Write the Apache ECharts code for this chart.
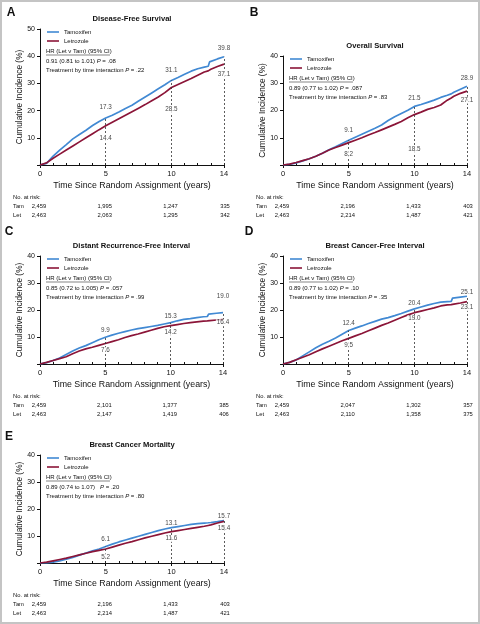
<!DOCTYPE html>
<html><head><meta charset="utf-8">
<script src="https://cdn.jsdelivr.net/npm/echarts@6/dist/echarts.min.js"></script>
<style>html,body{margin:0;padding:0;background:#fff}#c{width:480px;height:624px}</style>
</head><body><div id="c"></div>
<script>
// ---------- data ----------
const times = [0,0.5,1,1.5,2,2.5,3,3.5,4,4.5,5,5.5,6,6.5,7,7.5,8,8.5,9,9.5,10,10.5,11,11.5,12,12.5,12.8,12.9,13,13.5,14];

const dfsTam = [0,0.6,3.3,5.5,7.5,9.6,11.2,12.8,14.5,16.0,17.3,18.3,19.5,20.8,22.0,23.5,25.0,26.5,28.0,29.5,31.1,32.2,33.4,34.5,35.4,36.0,36.3,37.9,38.3,39.0,39.8];
const dfsLet = [0,0.8,2.5,4.0,5.5,7.0,8.5,10.0,11.5,13.0,14.4,15.7,17.0,18.3,19.6,20.9,22.2,23.6,25.0,26.6,28.5,29.6,30.7,31.8,33.0,34.2,34.6,34.8,35.2,36.2,37.1];

const osTam = [0,0.2,0.8,1.5,2.3,3.2,4.3,5.6,6.7,7.9,9.1,10.2,11.3,12.4,13.5,14.7,16.3,17.7,18.9,20.1,21.5,22.2,23.0,23.8,24.8,25.6,26.1,26.3,26.7,27.8,28.9];
const osLet = [0,0.3,0.9,1.6,2.3,3.2,4.3,5.5,6.4,7.3,8.2,9.1,10.0,11.0,11.9,12.9,13.9,14.9,16.0,17.3,18.5,19.4,20.4,21.1,22.0,23.8,24.6,24.9,25.2,26.3,27.1];

const drfiTam = [0,0.5,1.3,2.2,3.5,4.8,5.9,6.8,7.9,9.0,9.9,10.7,11.4,12.0,12.6,13.1,13.5,13.9,14.3,14.8,15.3,16.0,16.5,16.8,17.2,17.5,17.6,18.5,18.6,18.8,19.0];
const drfiLet = [0,0.6,1.3,2.0,2.7,3.8,4.8,5.6,6.2,6.9,7.6,8.3,9.0,9.8,10.5,11.1,11.8,12.5,13.2,13.8,14.2,14.6,15.0,15.3,15.6,15.9,16.0,16.0,16.1,16.3,16.4];

const bcfiTam = [0,0.6,1.5,3.0,4.5,6.0,7.3,8.4,9.6,11.0,12.4,13.3,14.1,15.0,15.8,16.6,17.2,17.9,18.7,19.6,20.4,21.1,21.8,22.4,22.9,23.1,23.2,24.4,24.5,24.8,25.1];
const bcfiLet = [0,0.6,1.6,2.5,3.4,4.5,5.6,6.6,7.6,8.6,9.5,10.4,11.3,12.3,13.3,14.3,15.2,16.2,17.2,18.2,19.0,19.6,20.2,20.8,21.5,21.9,22.0,22.1,22.2,22.6,23.1];

const bcmTam = [0,0,0.3,0.8,1.4,2.1,2.9,3.7,4.5,5.2,6.1,7.0,7.8,8.5,9.2,9.9,10.6,11.3,12.0,12.6,13.1,13.5,13.9,14.3,14.6,14.8,14.9,14.9,15.0,15.3,15.7];
const bcmLet = [0,0.3,0.8,1.3,1.8,2.4,3.0,3.6,4.2,4.7,5.2,5.9,6.6,7.3,7.9,8.6,9.3,9.9,10.5,11.1,11.6,12.0,12.4,12.8,13.2,13.6,13.9,14.0,14.1,14.8,15.4];

const atRiskTimes = [0,5,10,14];
const dfsRiskTam = ['2,459','1,995','1,247','335'];
const dfsRiskLet = ['2,463','2,063','1,295','342'];
const osRiskTam = ['2,459','2,196','1,433','403'];
const osRiskLet = ['2,463','2,214','1,487','421'];
const drfiRiskTam = ['2,459','2,101','1,377','385'];
const drfiRiskLet = ['2,463','2,147','1,419','406'];
const bcfiRiskTam = ['2,459','2,047','1,302','357'];
const bcfiRiskLet = ['2,463','2,110','1,358','375'];
const bcmRiskTam = ['2,459','2,196','1,433','403'];
const bcmRiskLet = ['2,463','2,214','1,487','421'];

const markYears = [5,10,14];
const xTickLabels = [0,5,10,14];
const seriesNames = ['Tamoxifen','Letrozole'];

// ---------- layout / style ----------
const FONT = "'Liberation Sans',Arial,sans-serif";
const BLUE = '#4189d3';
const RED = '#8b1538';
const TXT = '#111';

const panels = [
  {letter:'A', title:'Disease-Free Survival', tam:dfsTam, let:dfsLet, rT:dfsRiskTam, rL:dfsRiskLet,
   hr:'0.91 (0.81 to 1.01) ', p:' = .08', pInt:' = .22', yMax:50, grid:{left:40,top:29,width:184,height:136},
   offT:[-11,-10,-8], offL:[12,22,10], letterPos:[11,13]},
  {letter:'B', title:'Overall Survival', tam:osTam, let:osLet, rT:osRiskTam, rL:osRiskLet,
   hr:'0.89 (0.77 to 1.02) ', p:' = .087', pInt:' = .83', yMax:40, grid:{left:283,top:56,width:184,height:109},
   offT:[-10,-8,-8], offL:[12,35,9], letterPos:[254,13]},
  {letter:'C', title:'Distant Recurrence-Free Interval', tam:drfiTam, let:drfiLet, rT:drfiRiskTam, rL:drfiRiskLet,
   hr:'0.85 (0.72 to 1.005) ', p:' = .057', pInt:' = .99', yMax:40, grid:{left:40,top:256,width:183,height:108},
   offT:[-7,-6,-16], offL:[7,7,3], letterPos:[9,232]},
  {letter:'D', title:'Breast Cancer-Free Interval', tam:bcfiTam, let:bcfiLet, rT:bcfiRiskTam, rL:bcfiRiskLet,
   hr:'0.89 (0.77 to 1.02) ', p:' = .10', pInt:' = .35', yMax:40, grid:{left:283,top:256,width:184,height:108},
   offT:[-7,-6,-4], offL:[7,6,6], letterPos:[249,232]},
  {letter:'E', title:'Breast Cancer Mortality', tam:bcmTam, let:bcmLet, rT:bcmRiskTam, rL:bcmRiskLet,
   hr:'0.89 (0.74 to 1.07)   ', p:' = .20', pInt:' = .80', yMax:40, grid:{left:40,top:455,width:184,height:108},
   offT:[-7,-4,-4], offL:[8,7,7], letterPos:[9,437]}
];

const chart = echarts.init(document.getElementById('c'), null, {renderer:'canvas'});

const grid = [], xAxis = [], yAxis = [], series = [], legend = [];
panels.forEach((pn, i) => {
  grid.push(Object.assign({containLabel:false}, pn.grid));
  xAxis.push({
    type:'value', gridIndex:i, min:0, max:14,
    axisLine:{show:true, onZero:false, lineStyle:{color:'#111', width:1}},
    axisTick:{show:true, customValues:xTickLabels, length:3, lineStyle:{color:'#111'}},
    axisLabel:{show:true, customValues:xTickLabels, fontSize:7.5, color:TXT, fontFamily:FONT, margin:5},
    splitLine:{show:false},
    name:'Time Since Random Assignment (years)', nameLocation:'middle', nameGap:16,
    nameTextStyle:{fontSize:8.8, color:TXT, fontFamily:FONT}
  });
  xAxis.push({
    type:'value', gridIndex:i, min:0, max:14, interval:1, position:'bottom',
    axisLine:{show:false}, axisLabel:{show:false}, splitLine:{show:false},
    axisTick:{show:true, inside:true, length:2, lineStyle:{color:'#111'}}
  });
  yAxis.push({
    type:'value', gridIndex:i, min:0, max:pn.yMax, interval:10,
    axisLine:{show:true, onZero:false, lineStyle:{color:'#111', width:1}},
    axisTick:{show:true, length:3, lineStyle:{color:'#111'}},
    axisLabel:{fontSize:7, color:TXT, fontFamily:FONT, margin:5, formatter:v => v === 0 ? '' : String(v)},
    splitLine:{show:false},
    name:'Cumulative Incidence (%)', nameLocation:'middle', nameGap:16,
    nameTextStyle:{fontSize:8.3, color:TXT, fontFamily:FONT}
  });
  const xi = i * 2;
  series.push({
    name:seriesNames[0], type:'line', xAxisIndex:xi, yAxisIndex:i, showSymbol:false, symbol:'none',
    data:times.map((t,k)=>[t, pn.tam[k]]), lineStyle:{color:BLUE, width:1.7}, itemStyle:{color:BLUE},
    z:3, animation:false,
    markLine:{silent:true, symbol:'none', animation:false,
      lineStyle:{color:'#333', type:[2,2], width:0.8}, label:{show:false},
      data:markYears.map(y => [{coord:[y,0]},{coord:[y, pn.tam[times.indexOf(y)]]}])}
  });
  series.push({
    name:seriesNames[1], type:'line', xAxisIndex:xi, yAxisIndex:i, showSymbol:false, symbol:'none',
    data:times.map((t,k)=>[t, pn.let[k]]), lineStyle:{color:RED, width:1.7}, itemStyle:{color:RED},
    z:4, animation:false
  });
  series.push({
    type:'scatter', xAxisIndex:xi, yAxisIndex:i, symbolSize:0, silent:true, z:6, animation:false,
    data:markYears.map((y,j) => ({value:[y, pn.tam[times.indexOf(y)]], label:{offset:[0, pn.offT[j]]}})),
    label:{show:true, position:'inside', fontSize:6.3, color:TXT, fontFamily:FONT,
      formatter:p => p.value[1].toFixed(1)}
  });
  series.push({
    type:'scatter', xAxisIndex:xi, yAxisIndex:i, symbolSize:0, silent:true, z:6, animation:false,
    data:markYears.map((y,j) => ({value:[y, pn.let[times.indexOf(y)]], label:{offset:[0, pn.offL[j]]}})),
    label:{show:true, position:'inside', fontSize:6.3, color:TXT, fontFamily:FONT,
      backgroundColor:'#fff', padding:[1,1,0,1],
      formatter:p => p.value[1].toFixed(1)}
  });
  legend.push({
    data:seriesNames, orient:'vertical', left:pn.grid.left + 7, top:pn.grid.top - 1, padding:0,
    icon:'rect', itemWidth:12, itemHeight:1.6, itemGap:1, selectedMode:false,
    textStyle:{fontSize:6, color:TXT, fontFamily:FONT, lineHeight:8}
  });
});

chart.setOption({
  animation:false, backgroundColor:'#fff',
  grid, xAxis, yAxis, series, legend
});

// ---------- annotation layer ----------
const g = [];
g.push({type:'rect', shape:{x:1, y:1, width:478, height:622}, style:{fill:'none', stroke:'#c4c4c4', lineWidth:2}, z:100});
const small = '6px ' + FONT;
panels.forEach((pn, i) => {
  const L = pn.grid.left, T = pn.grid.top, W = pn.grid.width, B = T + pn.grid.height;
  g.push({type:'text', x:pn.letterPos[0], y:pn.letterPos[1], style:{text:pn.letter, font:"bold 12px 'Liberation Sans',Arial,sans-serif", fill:'#111', textAlign:'center', textVerticalAlign:'middle'}});
  g.push({type:'text', x:L + W/2, y:T - 10, style:{text:pn.title, font:'bold 7.6px ' + FONT, fill:'#111', textAlign:'center', textVerticalAlign:'middle'}});
  g.push({type:'text', x:L + 6, y:T + 22, style:{text:'HR (Let v Tam) (95% CI)', font:small, fill:TXT, textVerticalAlign:'middle'}});
  g.push({type:'line', shape:{x1:L + 6, y1:T + 26, x2:L + 70, y2:T + 26}, style:{stroke:'#333', lineWidth:0.6}});
  g.push({type:'text', x:L + 6, y:T + 32, style:{
    text:'{n|' + pn.hr + '}{i|P}{n|' + pn.p + '}', textVerticalAlign:'middle',
    rich:{n:{font:small, fill:TXT}, i:{font:'italic ' + small, fill:TXT}}}});
  g.push({type:'text', x:L + 6, y:T + 41, style:{
    text:'{n|Treatment by time interaction }{i|P}{n|' + pn.pInt + '}', textVerticalAlign:'middle',
    rich:{n:{font:small, fill:TXT}, i:{font:'italic ' + small, fill:TXT}}}});
  const rf = '5.8px ' + FONT;
  g.push({type:'text', x:L - 27, y:B + 32, style:{text:'No. at risk:', font:rf, fill:TXT, textVerticalAlign:'middle'}});
  g.push({type:'text', x:L - 27, y:B + 41, style:{text:'Tam', font:rf, fill:TXT, textVerticalAlign:'middle'}});
  g.push({type:'text', x:L - 27, y:B + 50, style:{text:'Let', font:rf, fill:TXT, textVerticalAlign:'middle'}});
  atRiskTimes.forEach((t, j) => {
    const px = chart.convertToPixel({xAxisIndex:i*2}, t);
    const cx = j === atRiskTimes.length - 1 ? px + 1 : px - 1;
    g.push({type:'text', x:cx, y:B + 41, style:{text:pn.rT[j], font:rf, fill:TXT, textAlign:'center', textVerticalAlign:'middle'}});
    g.push({type:'text', x:cx, y:B + 50, style:{text:pn.rL[j], font:rf, fill:TXT, textAlign:'center', textVerticalAlign:'middle'}});
  });
});
chart.setOption({graphic:g});
</script>
</body></html>
